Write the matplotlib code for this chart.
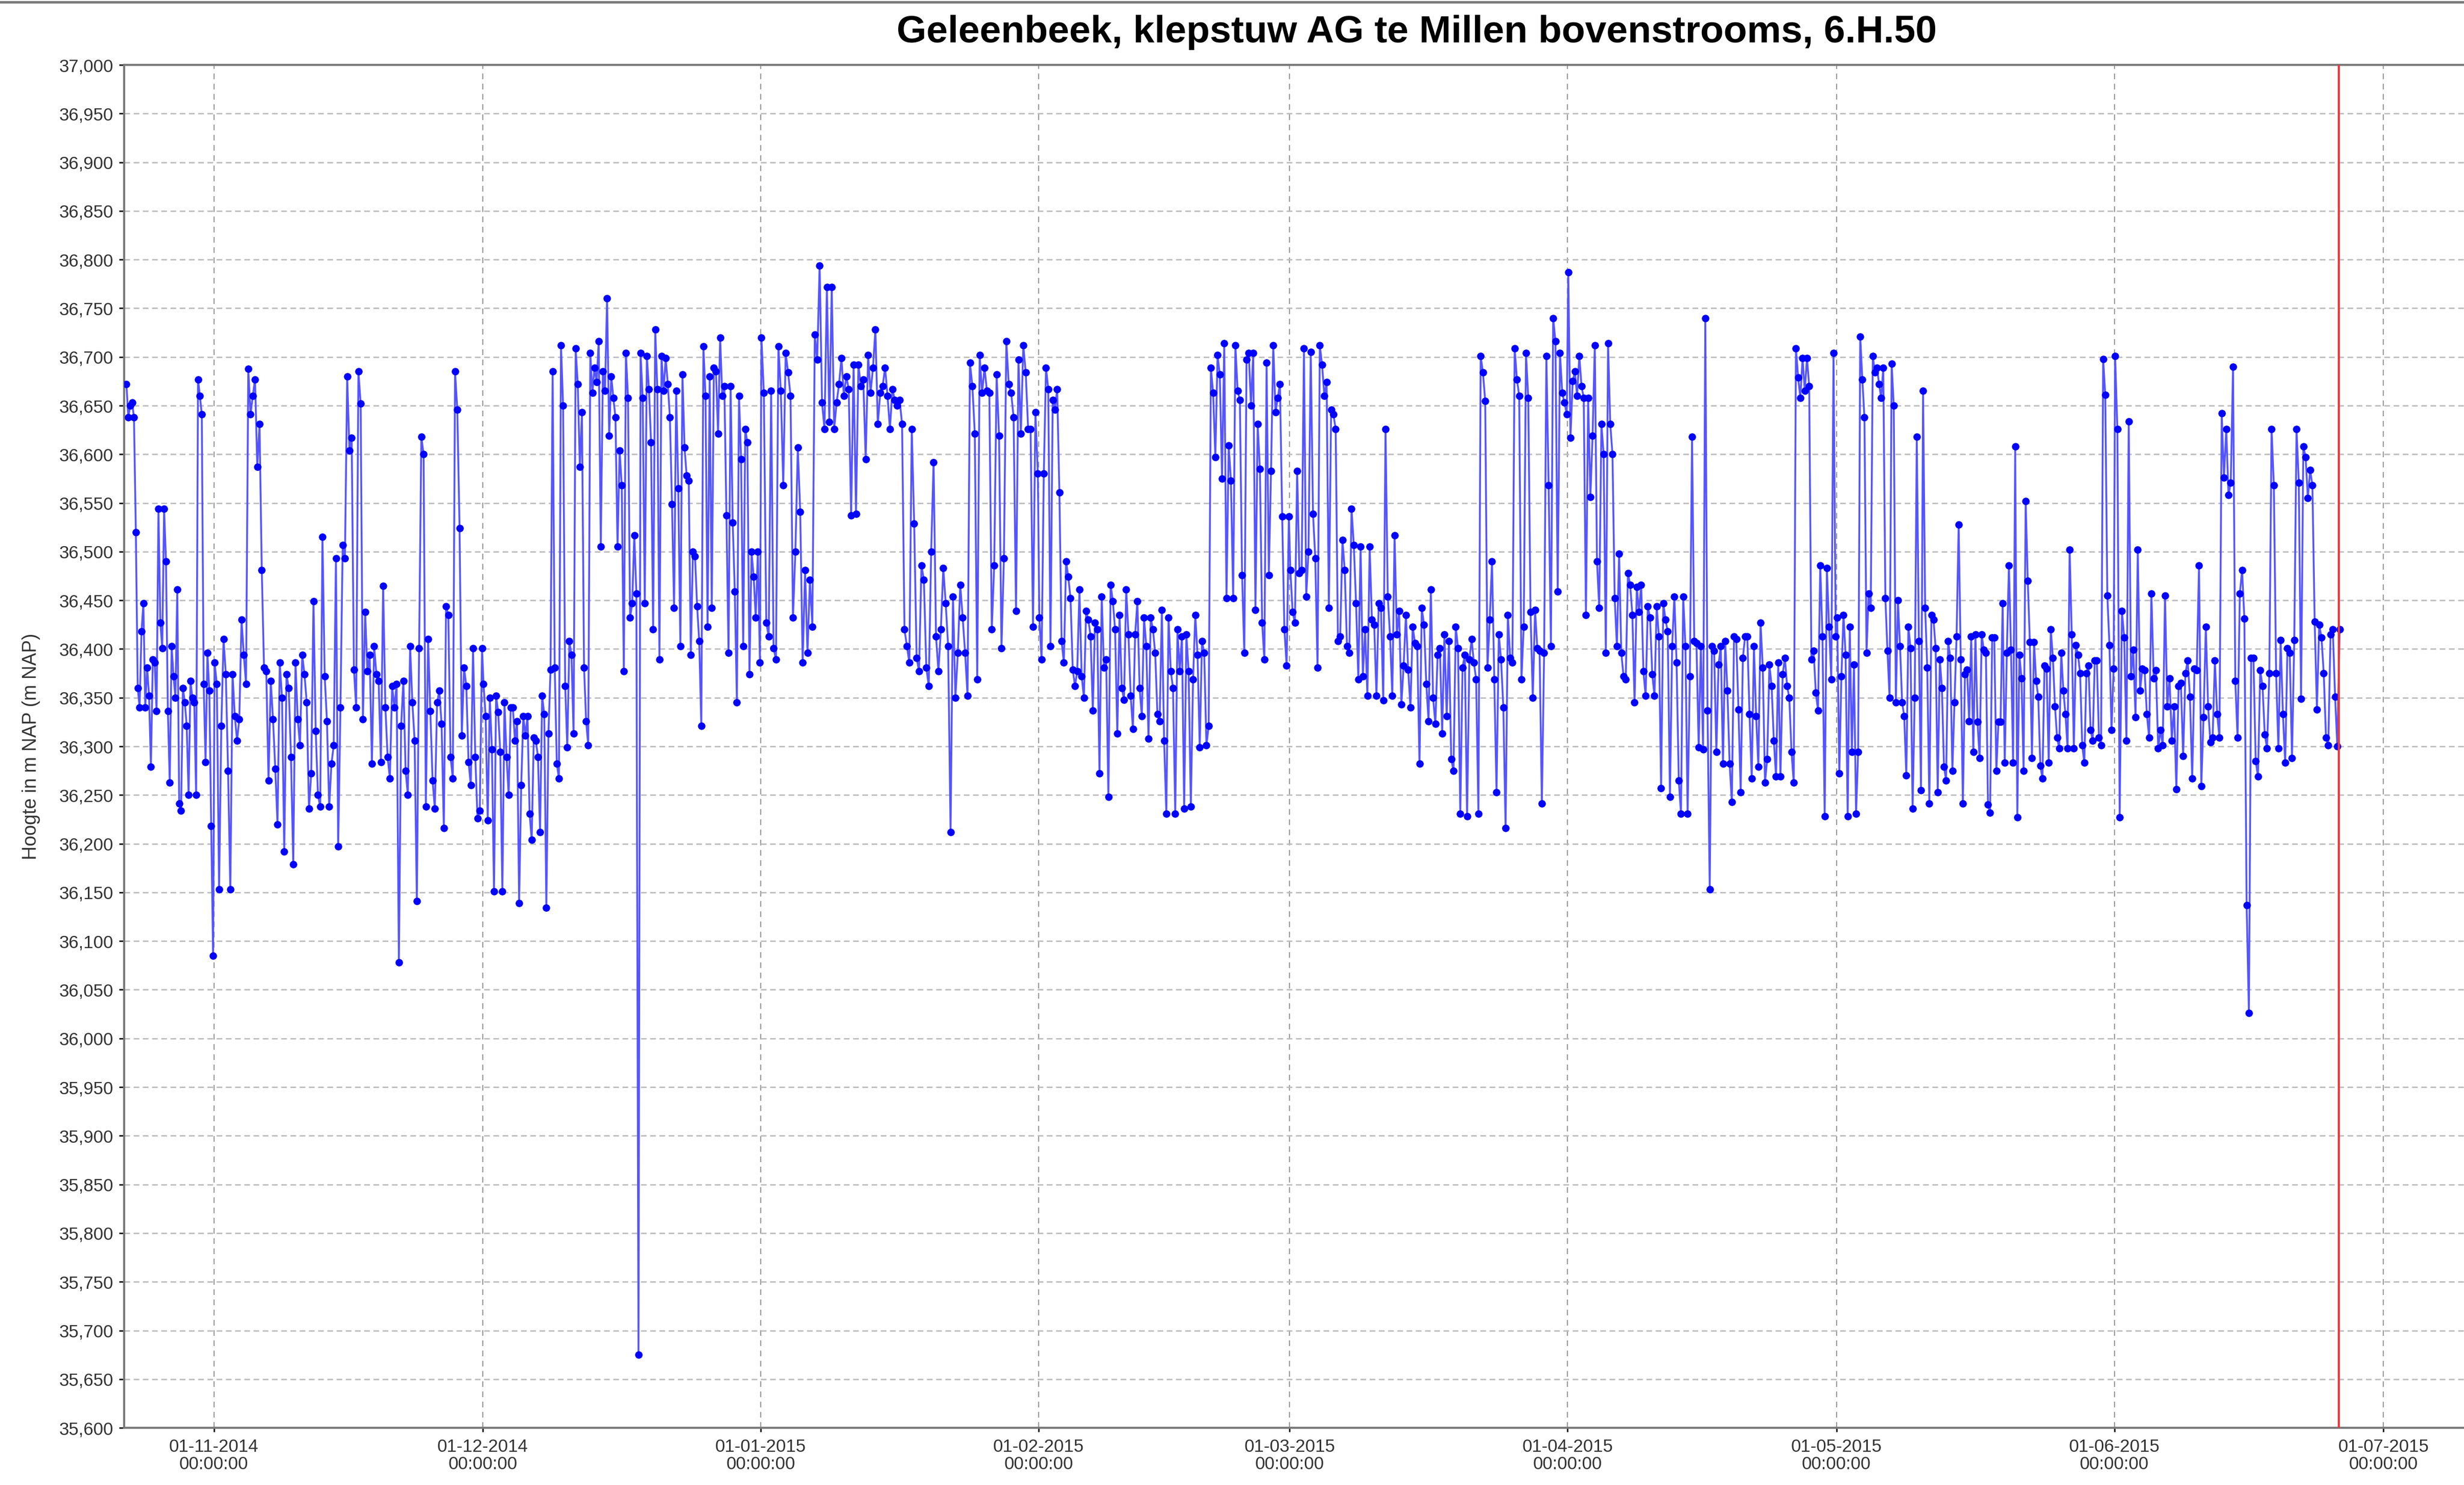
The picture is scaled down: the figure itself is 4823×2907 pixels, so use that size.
import matplotlib
matplotlib.use("Agg")
import matplotlib.pyplot as plt
import matplotlib.dates as mdates
from matplotlib.lines import Line2D
from matplotlib.ticker import MultipleLocator, FuncFormatter
import pandas as pd

plt.rcParams['font.family'] = ['Liberation Sans', 'DejaVu Sans']

# waterstand per maand (m NAP)
oct_2014 = [36.672, 36.638, 36.65, 36.653, 36.638, 36.52, 36.36, 36.34, 36.418, 36.447, 36.34, 36.381,
            36.352, 36.279, 36.389, 36.386, 36.336, 36.544, 36.427, 36.401, 36.544, 36.49, 36.336, 36.263,
            36.403, 36.372, 36.35, 36.461, 36.241, 36.234, 36.36, 36.345, 36.321, 36.25, 36.367, 36.35,
            36.345, 36.25, 36.677, 36.66, 36.641, 36.364, 36.284, 36.396, 36.357, 36.218, 36.085]
nov_2014 = [36.386, 36.364, 36.153, 36.321, 36.41, 36.374, 36.275, 36.153, 36.374, 36.331, 36.306, 36.328,
            36.43, 36.394, 36.364, 36.688, 36.641, 36.66, 36.677, 36.587, 36.631, 36.481, 36.381, 36.377,
            36.265, 36.367, 36.328, 36.277, 36.22, 36.386, 36.35, 36.192, 36.374, 36.36, 36.289, 36.179,
            36.386, 36.328, 36.301, 36.394, 36.374, 36.345, 36.236, 36.272, 36.449, 36.316, 36.25, 36.238,
            36.515, 36.372, 36.326, 36.238, 36.282, 36.301, 36.493, 36.197, 36.34, 36.507, 36.493, 36.68,
            36.604, 36.617, 36.379, 36.34, 36.685, 36.652, 36.328, 36.438, 36.377, 36.394, 36.282, 36.403,
            36.374, 36.367, 36.284, 36.465, 36.34, 36.289, 36.267, 36.362, 36.34, 36.364, 36.078, 36.321,
            36.367, 36.275, 36.25, 36.403, 36.345, 36.306, 36.141, 36.401, 36.618, 36.6, 36.238, 36.41,
            36.336, 36.265, 36.236, 36.345, 36.357, 36.323, 36.216, 36.444, 36.435, 36.289, 36.267, 36.685,
            36.646, 36.524, 36.311, 36.381, 36.362, 36.284, 36.26, 36.401, 36.289, 36.226, 36.234, 36.401]
dec_2014 = [36.364, 36.331, 36.224, 36.35, 36.297, 36.151, 36.352, 36.335, 36.294, 36.151, 36.345, 36.289,
            36.25, 36.34, 36.34, 36.306, 36.326, 36.139, 36.26, 36.331, 36.311, 36.331, 36.231, 36.204,
            36.309, 36.306, 36.289, 36.212, 36.352, 36.333, 36.134, 36.313, 36.379, 36.685, 36.381, 36.282,
            36.267, 36.712, 36.65, 36.362, 36.299, 36.408, 36.394, 36.313, 36.709, 36.672, 36.587, 36.643,
            36.381, 36.326, 36.301, 36.704, 36.663, 36.689, 36.674, 36.716, 36.505, 36.685, 36.665, 36.76,
            36.619, 36.68, 36.658, 36.638, 36.505, 36.604, 36.568, 36.377, 36.704, 36.658, 36.432, 36.447,
            36.517, 36.457, 35.675, 36.704, 36.658, 36.447, 36.701, 36.667, 36.612, 36.42, 36.728, 36.667,
            36.389, 36.701, 36.665, 36.699, 36.672, 36.638, 36.549, 36.442, 36.665, 36.565, 36.403, 36.682,
            36.607, 36.578, 36.573, 36.394, 36.5, 36.495, 36.444, 36.408, 36.321, 36.711, 36.66, 36.423,
            36.68, 36.442, 36.689, 36.685, 36.621, 36.72, 36.66, 36.67, 36.537, 36.396, 36.67, 36.53,
            36.459, 36.345, 36.66, 36.595, 36.403, 36.626, 36.612, 36.374, 36.5, 36.474, 36.432, 36.5,
            36.386]
jan_2015 = [36.72, 36.663, 36.427, 36.413, 36.665, 36.401, 36.389, 36.711, 36.665, 36.568, 36.704, 36.684,
            36.66, 36.432, 36.5, 36.607, 36.541, 36.386, 36.481, 36.396, 36.471, 36.423, 36.723, 36.697,
            36.794, 36.653, 36.626, 36.772, 36.633, 36.772, 36.626, 36.653, 36.672, 36.699, 36.66, 36.68,
            36.667, 36.537, 36.692, 36.539, 36.692, 36.67, 36.677, 36.595, 36.702, 36.663, 36.689, 36.728,
            36.631, 36.663, 36.67, 36.689, 36.66, 36.626, 36.667, 36.656, 36.65, 36.656, 36.631, 36.42,
            36.403, 36.386, 36.626, 36.529, 36.391, 36.377, 36.486, 36.471, 36.381, 36.362, 36.5, 36.592,
            36.413, 36.377, 36.42, 36.483, 36.447, 36.403, 36.212, 36.454, 36.35, 36.396, 36.466, 36.432,
            36.396, 36.352, 36.694, 36.67, 36.621, 36.369, 36.702, 36.663, 36.689, 36.665, 36.663, 36.42,
            36.486, 36.682, 36.619, 36.401, 36.493, 36.716, 36.672, 36.663, 36.638, 36.439, 36.697, 36.621,
            36.712, 36.684, 36.626, 36.626, 36.423, 36.643, 36.58]
feb_2015 = [36.432, 36.389, 36.58, 36.689, 36.667, 36.403, 36.656, 36.646, 36.667, 36.561, 36.408, 36.386,
            36.49, 36.474, 36.452, 36.379, 36.362, 36.377, 36.461, 36.372, 36.35, 36.439, 36.43, 36.413,
            36.337, 36.427, 36.42, 36.272, 36.454, 36.381, 36.389, 36.248, 36.466, 36.449, 36.42, 36.313,
            36.435, 36.36, 36.348, 36.461, 36.415, 36.352, 36.318, 36.415, 36.449, 36.36, 36.331, 36.432,
            36.403, 36.308, 36.432, 36.42, 36.396, 36.333, 36.326, 36.44, 36.306, 36.231, 36.432, 36.377,
            36.36, 36.231, 36.42, 36.377, 36.413, 36.236, 36.415, 36.377, 36.238, 36.369, 36.435, 36.394,
            36.299, 36.408, 36.396, 36.301, 36.321, 36.689, 36.663, 36.597, 36.702, 36.682, 36.575, 36.714,
            36.452, 36.609, 36.573, 36.452, 36.712, 36.665, 36.656, 36.476, 36.396, 36.697, 36.704, 36.65,
            36.704, 36.44, 36.631, 36.585, 36.427, 36.389, 36.694, 36.476, 36.583, 36.712, 36.643, 36.658,
            36.672, 36.536, 36.42, 36.383, 36.536]
mar_2015 = [36.481, 36.438, 36.427, 36.583, 36.478, 36.481, 36.709, 36.454, 36.5, 36.705, 36.539, 36.493,
            36.381, 36.712, 36.692, 36.66, 36.674, 36.442, 36.646, 36.641, 36.626, 36.408, 36.413, 36.512,
            36.481, 36.403, 36.396, 36.544, 36.507, 36.447, 36.369, 36.505, 36.372, 36.42, 36.352, 36.505,
            36.43, 36.425, 36.352, 36.447, 36.442, 36.347, 36.626, 36.454, 36.413, 36.352, 36.517, 36.415,
            36.439, 36.343, 36.383, 36.435, 36.379, 36.34, 36.423, 36.406, 36.403, 36.282, 36.442, 36.425,
            36.364, 36.326, 36.461, 36.35, 36.323, 36.394, 36.401, 36.313, 36.415, 36.331, 36.408, 36.287,
            36.275, 36.423, 36.401, 36.231, 36.381, 36.394, 36.228, 36.389, 36.41, 36.386, 36.369, 36.231,
            36.701, 36.684, 36.655, 36.381, 36.43, 36.49, 36.369, 36.253, 36.415, 36.389, 36.34, 36.216,
            36.435, 36.391, 36.386, 36.709, 36.677, 36.66, 36.369, 36.423, 36.704, 36.658, 36.438, 36.35,
            36.44, 36.401, 36.398, 36.241, 36.396, 36.701, 36.568, 36.403, 36.74, 36.716, 36.459, 36.704,
            36.663, 36.653, 36.641]
apr_2015 = [36.787, 36.617, 36.675, 36.685, 36.66, 36.701, 36.67, 36.658, 36.435, 36.658, 36.556, 36.619,
            36.712, 36.49, 36.442, 36.631, 36.6, 36.396, 36.714, 36.631, 36.6, 36.452, 36.403, 36.498,
            36.396, 36.372, 36.369, 36.478, 36.466, 36.435, 36.345, 36.464, 36.438, 36.466, 36.377, 36.352,
            36.444, 36.432, 36.374, 36.352, 36.444, 36.413, 36.257, 36.447, 36.43, 36.418, 36.248, 36.403,
            36.454, 36.386, 36.265, 36.231, 36.454, 36.403, 36.231, 36.372, 36.618, 36.408, 36.406, 36.299,
            36.403, 36.297, 36.74, 36.337, 36.153, 36.403, 36.398, 36.294, 36.384, 36.403, 36.282, 36.408,
            36.357, 36.282, 36.243, 36.413, 36.41, 36.338, 36.253, 36.391, 36.413, 36.413, 36.333, 36.267,
            36.403, 36.331, 36.279, 36.427, 36.381, 36.263, 36.287, 36.384, 36.362, 36.306, 36.269, 36.386,
            36.269, 36.374, 36.391, 36.362, 36.35, 36.294, 36.263, 36.709, 36.679, 36.658, 36.699, 36.665,
            36.699, 36.67, 36.389, 36.398, 36.355, 36.337, 36.486, 36.413, 36.228, 36.483, 36.423, 36.369,
            36.704, 36.413]
may_2015 = [36.432, 36.272, 36.372, 36.435, 36.394, 36.228, 36.423, 36.294, 36.384, 36.231, 36.294, 36.721,
            36.677, 36.638, 36.396, 36.457, 36.442, 36.701, 36.684, 36.689, 36.672, 36.658, 36.689, 36.452,
            36.398, 36.35, 36.693, 36.65, 36.345, 36.45, 36.403, 36.345, 36.331, 36.27, 36.423, 36.401,
            36.236, 36.35, 36.618, 36.408, 36.255, 36.665, 36.442, 36.381, 36.241, 36.435, 36.43, 36.401,
            36.253, 36.389, 36.36, 36.279, 36.265, 36.408, 36.391, 36.275, 36.345, 36.413, 36.528, 36.389,
            36.241, 36.374, 36.379, 36.326, 36.413, 36.294, 36.415, 36.325, 36.288, 36.415, 36.399, 36.396,
            36.24, 36.232, 36.412, 36.412, 36.275, 36.325, 36.325, 36.447, 36.283, 36.396, 36.486, 36.399,
            36.283, 36.608, 36.227, 36.394, 36.37, 36.275, 36.552, 36.47, 36.407, 36.288, 36.407, 36.367,
            36.351, 36.28, 36.267, 36.383, 36.38, 36.283, 36.42, 36.391, 36.341, 36.309, 36.298, 36.396,
            36.357, 36.333, 36.298, 36.502, 36.415, 36.298, 36.404, 36.394, 36.375, 36.301, 36.283, 36.375,
            36.383, 36.317, 36.306, 36.388, 36.388, 36.309, 36.301, 36.698, 36.661, 36.455, 36.404, 36.317,
            36.38]
jun_2015 = [36.701, 36.626, 36.227, 36.439, 36.412, 36.306, 36.634, 36.372, 36.399, 36.33, 36.502, 36.357,
            36.38, 36.378, 36.333, 36.309, 36.457, 36.37, 36.378, 36.298, 36.317, 36.301, 36.455, 36.341,
            36.37, 36.306, 36.341, 36.256, 36.362, 36.365, 36.29, 36.375, 36.388, 36.351, 36.267, 36.38,
            36.378, 36.486, 36.259, 36.33, 36.423, 36.341, 36.304, 36.309, 36.388, 36.333, 36.309, 36.642,
            36.576, 36.626, 36.558, 36.571, 36.69, 36.367, 36.309, 36.457, 36.481, 36.431, 36.137, 36.026,
            36.391, 36.391, 36.285, 36.269, 36.378, 36.362, 36.312, 36.298, 36.375, 36.626, 36.568, 36.375,
            36.298, 36.409, 36.333, 36.283, 36.401, 36.396, 36.288, 36.409, 36.626, 36.571, 36.349, 36.608,
            36.597, 36.555, 36.584, 36.568, 36.428, 36.338, 36.425, 36.412, 36.375, 36.309, 36.301, 36.415,
            36.42, 36.351, 36.30, 36.42]

segments = [
    ("2014-10-22 06:00", "2014-10-31 22:00", oct_2014),
    ("2014-11-01 02:00", "2014-11-30 22:00", nov_2014),
    ("2014-12-01 02:00", "2014-12-31 22:00", dec_2014),
    ("2015-01-01 02:00", "2015-01-31 22:00", jan_2015),
    ("2015-02-01 02:00", "2015-02-28 22:00", feb_2015),
    ("2015-03-01 02:00", "2015-03-31 22:00", mar_2015),
    ("2015-04-01 02:00", "2015-04-30 22:00", apr_2015),
    ("2015-05-01 02:00", "2015-05-31 22:00", may_2015),
    ("2015-06-01 02:00", "2015-06-26 03:00", jun_2015),
]

times = []
levels = []
for start, end, vals in segments:
    times.extend(pd.date_range(start, end, periods=len(vals)))
    levels.extend(vals)

peildatum = pd.Timestamp("2015-06-26 01:00")

fig = plt.figure(figsize=(48.23, 29.07), dpi=100)
ax = fig.add_axes([0.0504, 0.0385, 0.9496, 0.9178])

ax.plot(times, levels, color='#5555ff', lw=2.6, zorder=3)
ax.plot(times, levels, ls='none', marker='o', ms=9.5, color='#0000ff', mec='#0000ff', zorder=4)
ax.axvline(peildatum, color='#e8393c', lw=3, zorder=5)

ax.set_ylim(35.6, 37.0)
ax.set_xlim(pd.Timestamp("2014-10-22"), pd.Timestamp("2015-07-10"))

ax.yaxis.set_major_locator(MultipleLocator(0.05))
ax.yaxis.set_major_formatter(FuncFormatter(lambda v, p: f"{v:.3f}".replace('.', ',')))
ax.xaxis.set_major_locator(mdates.MonthLocator())
ax.xaxis.set_major_formatter(mdates.DateFormatter('%d-%m-%Y\n%H:%M:%S'))

ax.grid(axis='y', color='#bdbdbd', lw=2, ls=(0, (4, 2.5)))
ax.grid(axis='x', color='#9a9a9a', lw=1.6, ls=(0, (5, 4)))
ax.set_axisbelow(True)

ax.tick_params(axis='y', labelsize=25, length=7, width=2.2, pad=8, color='#222222', labelcolor='#333333')
ax.tick_params(axis='x', labelsize=25, length=6, width=2.2, pad=9, color='#222222', labelcolor='#333333')
for lbl in ax.get_xticklabels():
    lbl.set_horizontalalignment('center')
    lbl.set_linespacing(1.05)

for side in ['left', 'bottom', 'top']:
    ax.spines[side].set_color('#7a7a7a')
    ax.spines[side].set_linewidth(3)
ax.spines['right'].set_visible(False)

fig.text(0.0126, 0.0385 + 0.9178 / 2, 'Hoogte in m NAP (m NAP)', rotation=90,
         ha='center', va='center', fontsize=27, color='#333333')
fig.text(0.575, 0.978, 'Geleenbeek, klepstuw AG te Millen bovenstrooms, 6.H.50',
         ha='center', va='center', fontsize=54, fontweight='bold', color='black')

# kaderlijn bovenaan
fig.add_artist(Line2D([0, 1], [0.9986, 0.9986], color='#7a7a7a', lw=3.5, transform=fig.transFigure))

fig.savefig('out.png', dpi=100)
